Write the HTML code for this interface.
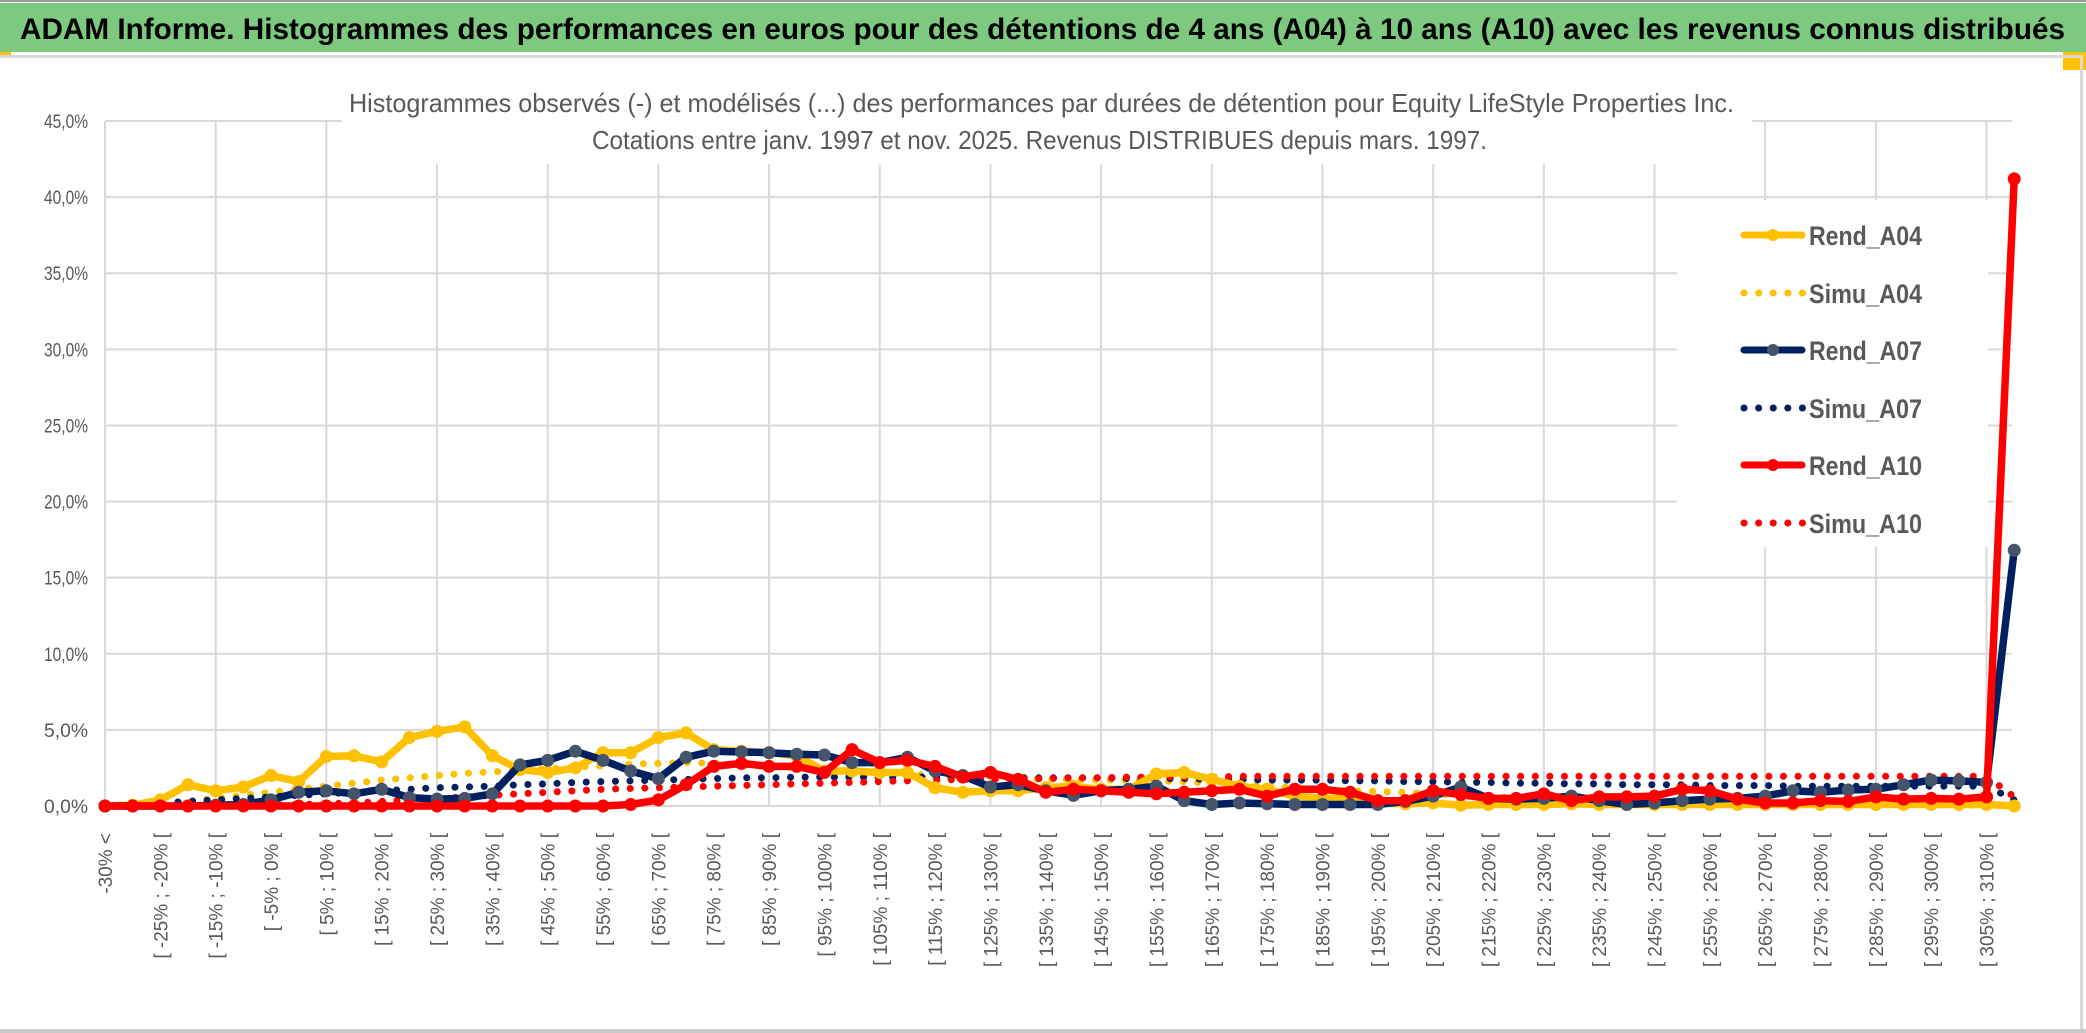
<!DOCTYPE html>
<html><head><meta charset="utf-8">
<style>
html,body{margin:0;padding:0;background:#fff;width:2086px;height:1033px;overflow:hidden}
svg{display:block}
</style></head>
<body>
<svg id="chart" width="2086" height="1033" xmlns="http://www.w3.org/2000/svg">
  <rect x="0" y="0" width="2086" height="1033" fill="#fff"/>
  <rect x="0" y="0" width="2086" height="2" fill="#999"/>
  <rect x="0" y="3" width="2086" height="49" fill="#7DC97F"/>
  <rect x="0" y="52" width="11" height="3" fill="#FFC000"/>
  <rect x="2063" y="52" width="23" height="18" fill="#FFC000"/>
  <rect x="0" y="55" width="2080" height="3" fill="#D9D9D9"/>
  <rect x="2080" y="55" width="3" height="978" fill="#D9D9D9"/>
  <rect x="0" y="1029" width="2086" height="4" fill="#C8C8C8"/>
  <text x="20" y="39" font-family="Liberation Sans, sans-serif" font-weight="bold" font-size="30" fill="#000" textLength="2045" lengthAdjust="spacingAndGlyphs">ADAM Informe. Histogrammes des performances en euros pour des détentions de 4 ans (A04) à 10 ans (A10) avec les revenus connus distribués</text>
  <g id="grid"></g>
  <rect x="342" y="80" width="1410" height="84" fill="#fff"/>
  <rect x="1677" y="200" width="311" height="347" fill="#fff"/>
  <text x="349" y="112" font-family="Liberation Sans, sans-serif" font-size="26" fill="#595959" textLength="1385" lengthAdjust="spacingAndGlyphs">Histogrammes observés (-) et modélisés (...) des performances par durées de détention pour Equity LifeStyle Properties Inc.</text>
  <text x="592" y="149" font-family="Liberation Sans, sans-serif" font-size="26" fill="#595959" textLength="895" lengthAdjust="spacingAndGlyphs">Cotations entre janv. 1997 et nov. 2025. Revenus DISTRIBUES depuis mars. 1997.</text>
  <g id="yaxis"></g>
  <g id="xaxis"></g>
  <g id="series"></g>
  <g id="legend"></g>
</svg>
<script>
const yTicks = [0,5,10,15,20,25,30,35,40,45];
const lows = [];
for (let v = -30; v <= 305; v += 5) lows.push(v);
const categories = ["-30% <"].concat(lows.map(v => "[ " + v + "% ; " + (v + 5) + "% [")).concat(["> 310%"]);
const rendA04 = [0,0.05,0.4,1.4,1.0,1.25,2.0,1.6,3.25,3.3,2.9,4.5,4.9,5.2,3.3,2.4,2.2,2.5,
 3.5,3.5,4.5,4.8,3.7,3.6,3.5,3.3,2.3,2.3,2.2,2.2,1.2,0.9,1.0,1.0,1.2,1.3,
 1.1,1.1,2.1,2.2,1.75,1.3,1.1,0.65,0.5,0.5,0.2,0.15,0.2,0.05,0.1,0.1,0.1,0.15,
 0.1,0.1,0.1,0.1,0.1,0.1,0.1,0.1,0.1,0.1,0.1,0.1,0.1,0.1,0.1,0];
const simuA04 = [0,0.05,0.15,0.3,0.5,0.7,0.9,1.1,1.3,1.5,1.7,1.85,2.0,2.15,2.25,2.35,2.45,2.55,
 2.65,2.75,2.8,2.85,2.8,2.7,2.6,2.5,2.4,2.3,2.2,2.1,2.0,1.9,1.85,1.8,1.75,1.75,
 1.7,1.7,1.65,1.6,1.5,1.4,1.3,1.2,1.1,1.0,0.95,0.9,0.8,0.7,0.6,0.55,0.5,0.45,
 0.4,0.35,0.3,0.3,0.25,0.2,0.2,0.15,0.15,0.1,0.1,0.1,0.1,0.05,0.05,0];
const rendA07 = [0,0,0,0,0.05,0.1,0.4,0.9,1.0,0.8,1.1,0.55,0.45,0.5,0.8,2.7,3.0,3.6,
 3.0,2.3,1.8,3.2,3.6,3.55,3.5,3.4,3.35,2.85,2.85,3.2,2.3,2.0,1.25,1.4,1.0,0.7,
 1.0,1.1,1.3,0.35,0.1,0.2,0.15,0.1,0.1,0.1,0.1,0.3,0.65,1.25,0.5,0.45,0.5,0.65,
 0.35,0.1,0.2,0.35,0.45,0.5,0.65,1.0,0.9,1.05,1.1,1.4,1.7,1.65,1.55,16.8];
const simuA07 = [0,0.1,0.2,0.3,0.4,0.5,0.6,0.7,0.8,0.9,1.0,1.1,1.2,1.25,1.3,1.4,1.45,1.55,
 1.6,1.65,1.7,1.75,1.8,1.85,1.85,1.9,1.9,1.9,1.9,1.9,1.9,1.9,1.85,1.85,1.85,1.85,
 1.85,1.8,1.8,1.8,1.75,1.75,1.7,1.7,1.7,1.65,1.65,1.6,1.6,1.55,1.55,1.5,1.5,1.45,
 1.45,1.4,1.4,1.4,1.35,1.35,1.35,1.3,1.3,1.3,1.3,1.3,1.3,1.3,1.3,0.4];
const rendA10 = [0,0,0,0,0,0,0,0,0,0,0,0,0,0,0,0,0,0,
 0,0.1,0.4,1.4,2.6,2.8,2.6,2.6,2.2,3.7,2.85,3.0,2.6,1.9,2.2,1.75,0.9,1.1,
 1.0,0.9,0.8,0.9,1.0,1.1,0.65,1.1,1.1,0.9,0.35,0.35,1.0,0.75,0.5,0.5,0.8,0.35,
 0.6,0.6,0.65,1.1,1.0,0.45,0.2,0.2,0.35,0.3,0.6,0.45,0.5,0.45,0.6,41.2];
const simuA10 = [0,0,0,0,0,0.02,0.05,0.1,0.15,0.2,0.3,0.4,0.5,0.6,0.7,0.8,0.9,1.0,
 1.1,1.15,1.2,1.25,1.3,1.35,1.4,1.45,1.5,1.55,1.6,1.65,1.7,1.75,1.75,1.8,1.8,1.85,
 1.85,1.9,1.9,1.9,1.9,1.95,1.95,1.95,1.95,1.95,1.95,1.95,1.95,1.95,1.95,1.95,1.95,1.95,
 1.95,1.95,1.95,1.95,1.95,1.95,1.95,1.95,1.95,1.95,1.95,1.95,1.95,1.95,1.95,0.6];

const NS = "http://www.w3.org/2000/svg";
const X0 = 105, XSTEP = 27.67, Y0 = 806, YPER = (806 - 121) / 45;
const xPos = i => X0 + XSTEP * i;
const yPos = v => Y0 - v * YPER;
function mk(tag, attrs, parent) {
  const e = document.createElementNS(NS, tag);
  for (const k in attrs) e.setAttribute(k, attrs[k]);
  parent.appendChild(e);
  return e;
}
const grid = document.getElementById('grid');
yTicks.forEach(t => {
  const l = mk('line', {x1: 105, x2: 2012, y1: yPos(t), y2: yPos(t), stroke: '#D9D9D9', 'stroke-width': 2}, grid);
  
  
});
for (let i = 0; i < categories.length; i += 4) {
  const l = mk('line', {x1: xPos(i), x2: xPos(i), y1: yPos(45), y2: yPos(0), stroke: '#D9D9D9', 'stroke-width': 2}, grid);
  
  
}
const yaxis = document.getElementById('yaxis');
yTicks.forEach(t => {
  const tx = mk('text', {x: 88, y: yPos(t) + 7, 'text-anchor': 'end', 'font-family': 'Liberation Sans, sans-serif', 'font-size': 19, fill: '#595959', textLength: 44, lengthAdjust: 'spacingAndGlyphs'}, yaxis);
  tx.textContent = t.toFixed(1).replace('.', ',') + '%';
  
  
});
const xaxis = document.getElementById('xaxis');
categories.forEach((c, i) => {
  if (i % 2 !== 0) return;
  const x = xPos(i) + 7;
  const tx = mk('text', {x: x, y: 833, transform: 'rotate(-90 ' + x + ' 833)', 'text-anchor': 'end', 'font-family': 'Liberation Sans, sans-serif', 'font-size': 19, fill: '#595959'}, xaxis);
  tx.textContent = c;
  
  
});
const seriesG = document.getElementById('series');
function pts(arr) { return arr.map((v, i) => xPos(i).toFixed(1) + ',' + yPos(v).toFixed(1)).join(' '); }
function drawSimu(arr, color, name) {
  const p = mk('polyline', {points: pts(arr), fill: 'none', stroke: color, 'stroke-width': 7, 'stroke-linecap': 'round', 'stroke-dasharray': '0.1 14.5'}, seriesG);
  
  
}
function drawRend(arr, color, mcolor, name) {
  const p = mk('polyline', {points: pts(arr), fill: 'none', stroke: color, 'stroke-width': 7.5, 'stroke-linejoin': 'round'}, seriesG);
  
  
  arr.forEach((v, i) => {
    const c = mk('circle', {cx: xPos(i), cy: yPos(v), r: 6.5, fill: mcolor}, seriesG);
    
    
  });
}
drawSimu(simuA04, '#FFC000', 'simu-a04-line');
drawSimu(simuA07, '#002060', 'simu-a07-line');
drawSimu(simuA10, '#FF0000', 'simu-a10-line');
drawRend(rendA04, '#FFC000', '#FFC000', 'rend-a04-line');
drawRend(rendA07, '#002060', '#44546A', 'rend-a07-line');
drawRend(rendA10, '#FF0000', '#FF0000', 'rend-a10-line');

const legendNames = ['Rend_A04','Simu_A04','Rend_A07','Simu_A07','Rend_A10','Simu_A10'];
const legendColors = ['#FFC000','#FFC000','#002060','#002060','#FF0000','#FF0000'];
const legendY = [235, 293, 350, 408, 465, 523];
const legend = document.getElementById('legend');
legendNames.forEach((n, k) => {
  const y = legendY[k];
  const dotted = n.startsWith('Simu');
  const g = mk('g', {}, legend);
  
  
  if (dotted) {
    mk('line', {x1: 1744, x2: 1804, y1: y, y2: y, stroke: legendColors[k], 'stroke-width': 7, 'stroke-linecap': 'round', 'stroke-dasharray': '0.1 14.5'}, g);
  } else {
    mk('line', {x1: 1744, x2: 1802, y1: y, y2: y, stroke: legendColors[k], 'stroke-width': 7, 'stroke-linecap': 'round'}, g);
    mk('circle', {cx: 1773, cy: y, r: 6, fill: k === 2 ? '#44546A' : legendColors[k]}, g);
  }
  const t = mk('text', {x: 1809, y: y + 10, 'font-family': 'Liberation Sans, sans-serif', 'font-weight': 'bold', 'font-size': 27, fill: '#595959', textLength: 113, lengthAdjust: 'spacingAndGlyphs'}, g);
  t.textContent = n;
});
</script>
</body></html>
